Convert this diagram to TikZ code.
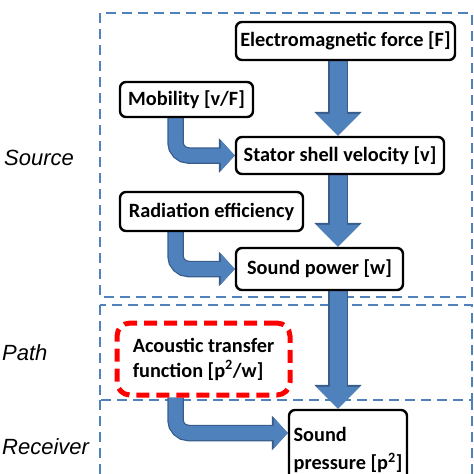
\documentclass[tikz,border=0pt]{standalone}
\usepackage{fontspec}
\setmainfont{Carlito}
\newfontfamily\labfont{Liberation Sans}
\usetikzlibrary{arrows.meta,backgrounds}
\definecolor{zoneblue}{RGB}{79,129,189}
\definecolor{arrowblue}{RGB}{79,129,189}
\definecolor{arrowedge}{RGB}{56,93,138}
\tikzset{
  blk/.style={draw,line width=2.4pt,rounded corners=6pt,fill=white,inner sep=4pt,
    font=\bfseries\fontsize{20.3}{25}\selectfont},
  zone/.style={draw=zoneblue,line width=2.5pt,dash pattern=on 10pt off 6pt},
  side/.style={anchor=west,inner sep=0pt,font=\labfont\itshape\fontsize{22}{26}\selectfont},
  bigarrow/.style={line width=17pt,draw=arrowblue,-{Triangle[width=42pt,length=22pt]},
    preaction={draw=arrowedge,line width=19.5pt,-{Triangle[width=46pt,length=24pt]}}},
  larrow/.style={line width=14pt,draw=arrowblue,rounded corners=13pt,-{Triangle[width=30pt,length=14pt]},
    preaction={draw=arrowedge,line width=16.5pt,-{Triangle[width=34pt,length=16pt]}}}
}
\begin{document}
\begin{tikzpicture}[x=1pt,y=-1pt]
\useasboundingbox (0,0) rectangle (474,474);
\coordinate (vcol) at (338,0);
\coordinate (lcol) at (175.5,0);
\node[blk,minimum width=219pt,minimum height=38pt] (em) at (345.5,41) {Electromagnetic force [F]};
\node[blk,minimum width=133pt,minimum height=35pt] (mob) at (186.5,99.5) {Mobility [v/F]};
\node[blk,minimum width=208pt,minimum height=37pt] (stator) at (340,155.5) {Stator shell velocity [v]};
\node[blk,minimum width=183pt,minimum height=39pt] (rad) at (211.5,211.5) {Radiation efficiency};
\node[blk,minimum width=167pt,minimum height=42pt] (spow) at (319.5,269) {Sound power [w]};
\node[blk,draw=red,line width=5pt,dash pattern=on 13pt off 7pt,rounded corners=13pt,
  align=left,minimum width=173pt,minimum height=72pt] (atf) at (203.5,359)
  {Acoustic transfer\\function [p\textsuperscript{2}/w]};
\node[blk,align=left,font=\bfseries\fontsize{20.3}{28}\selectfont,
  minimum width=118pt,minimum height=80pt] (spres) at (348,450)
  {Sound\\pressure [p\textsuperscript{2}]};
\node[side] (src) at (4,158) {Source};
\node[side] (pth) at (2,353) {Path};
\node[side] (rcv) at (2,447) {Receiver};
\begin{pgfonlayer}{background}
\draw[zone] (100,13) rectangle (472,297);
\draw[zone] (100,305) rectangle (472,400);
\draw[zone] (100,400) -- (100,490);
\draw[zone] (472,400) -- (472,490);
\draw[bigarrow] (em.south -| vcol) -- (stator.north -| vcol);
\draw[bigarrow] (stator.south -| vcol) -- (spow.north -| vcol);
\draw[bigarrow] (spow.south -| vcol) -- (spres.north -| vcol);
\draw[larrow] (mob.south -| lcol) |- (stator.west);
\draw[larrow] (rad.south -| lcol) |- (spow.west);
\draw[larrow] (atf.south -| lcol) |- ([yshift=17pt]spres.west);
\end{pgfonlayer}
\end{tikzpicture}
\end{document}
